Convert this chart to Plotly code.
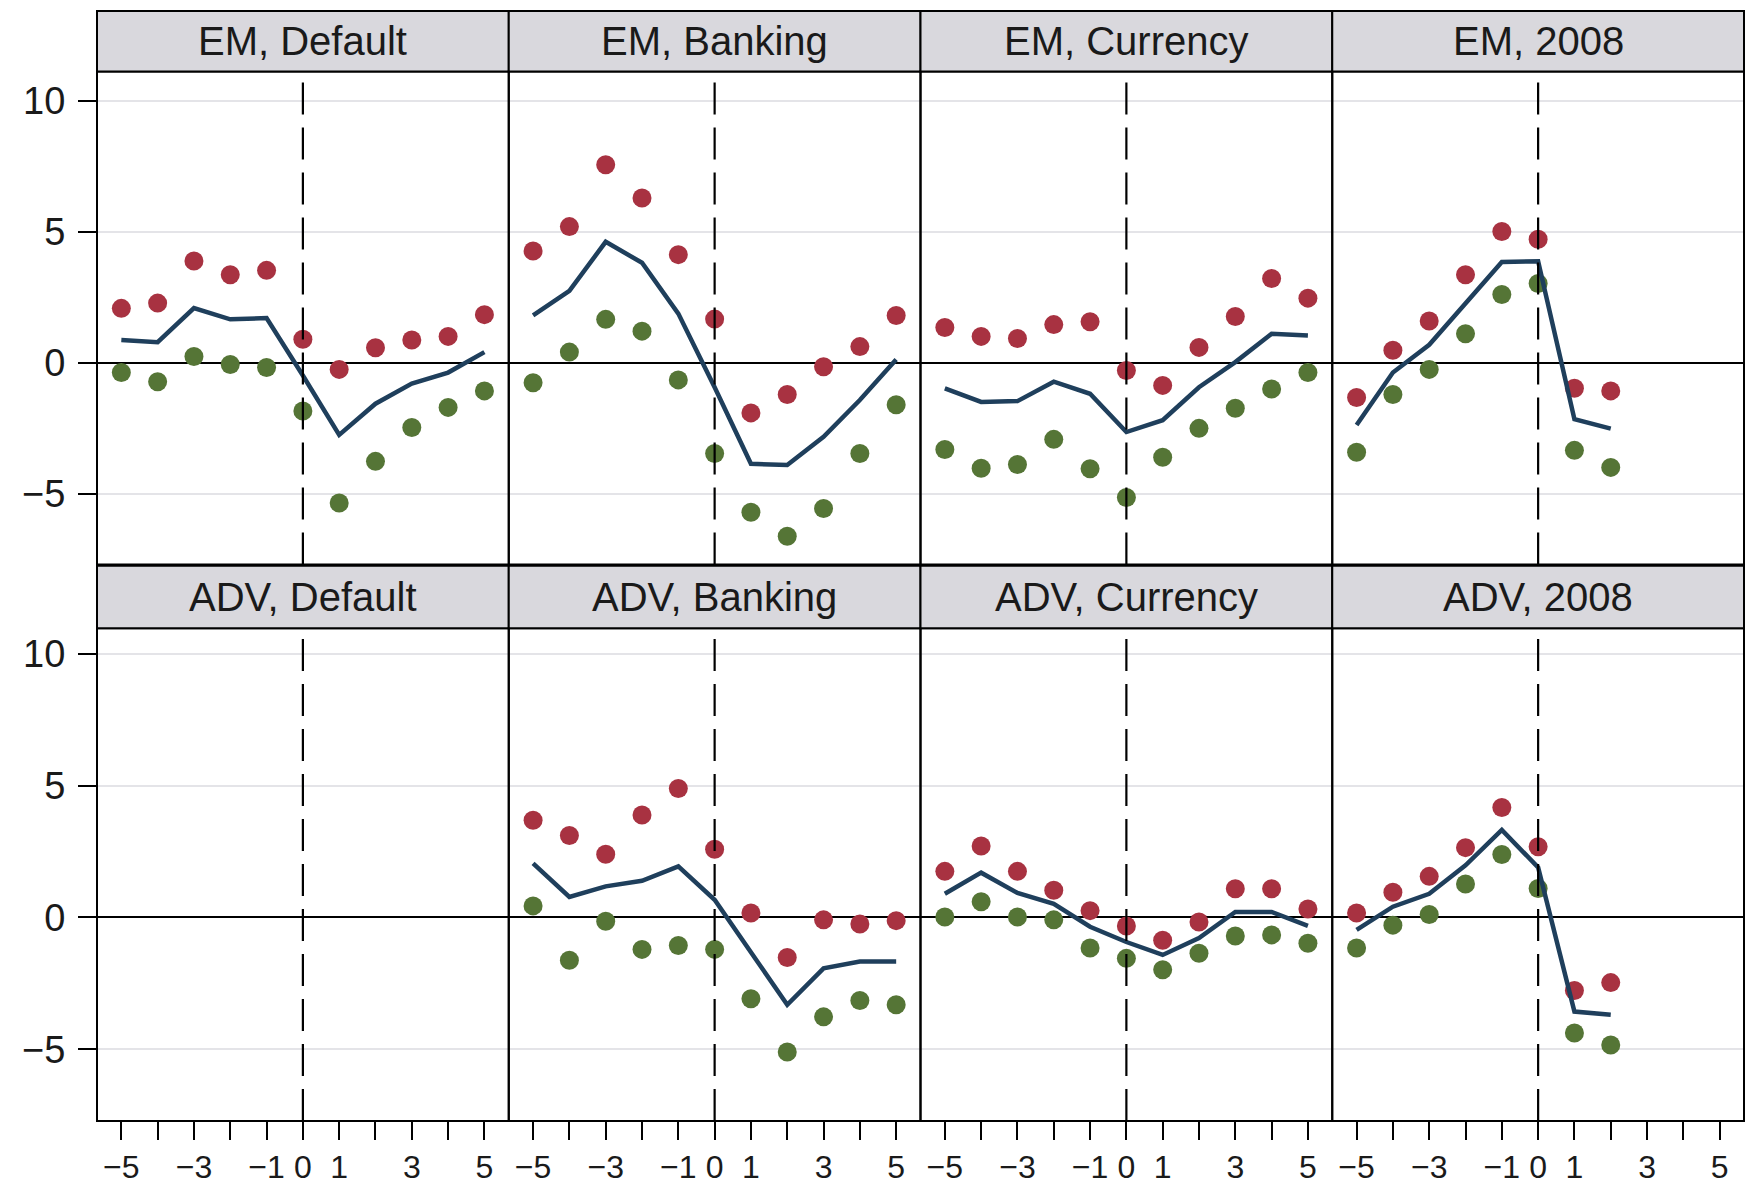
import plotly.graph_objects as go

# ---------------- data ----------------
x_full = [-5, -4, -3, -2, -1, 0, 1, 2, 3, 4, 5]
x_2008 = [-5, -4, -3, -2, -1, 0, 1, 2]

em_default_upper = [2.08, 2.28, 3.89, 3.36, 3.53, 0.90, -0.25, 0.58, 0.87, 1.01, 1.84]
em_default_lower = [-0.37, -0.72, 0.24, -0.06, -0.18, -1.84, -5.35, -3.76, -2.47, -1.70, -1.07]
em_default_mean = [0.87, 0.79, 2.09, 1.66, 1.71, -0.48, -2.75, -1.56, -0.79, -0.37, 0.41]

em_banking_upper = [4.27, 5.20, 7.56, 6.29, 4.13, 1.67, -1.91, -1.21, -0.15, 0.62, 1.81]
em_banking_lower = [-0.76, 0.41, 1.66, 1.21, -0.65, -3.46, -5.70, -6.62, -5.56, -3.46, -1.60]
em_banking_mean = [1.81, 2.75, 4.62, 3.82, 1.88, -0.93, -3.85, -3.90, -2.82, -1.42, 0.13]

em_currency_upper = [1.35, 1.01, 0.93, 1.46, 1.57, -0.29, -0.86, 0.59, 1.77, 3.22, 2.47]
em_currency_lower = [-3.31, -4.02, -3.88, -2.92, -4.04, -5.14, -3.60, -2.50, -1.73, -1.00, -0.37]
em_currency_mean = [-0.97, -1.49, -1.46, -0.72, -1.18, -2.64, -2.19, -0.93, 0.03, 1.11, 1.04]

em_2008_upper = [-1.32, 0.48, 1.60, 3.36, 5.01, 4.72, -0.97, -1.07]
em_2008_lower = [-3.41, -1.21, -0.25, 1.11, 2.61, 3.03, -3.34, -3.99]
em_2008_mean = [-2.37, -0.37, 0.69, 2.28, 3.85, 3.88, -2.15, -2.51]

adv_banking_upper = [3.69, 3.11, 2.40, 3.89, 4.89, 2.59, 0.17, -1.52, -0.09, -0.25, -0.12]
adv_banking_lower = [0.44, -1.62, -0.14, -1.21, -1.06, -1.21, -3.08, -5.10, -3.77, -3.15, -3.31]
adv_banking_mean = [2.05, 0.78, 1.18, 1.39, 1.94, 0.67, -1.32, -3.31, -1.93, -1.67, -1.67]

adv_currency_upper = [1.75, 2.71, 1.75, 1.03, 0.26, -0.32, -0.86, -0.17, 1.09, 1.09, 0.32]
adv_currency_lower = [0.02, 0.60, 0.02, -0.09, -1.16, -1.55, -1.98, -1.36, -0.70, -0.66, -0.98]
adv_currency_mean = [0.90, 1.70, 0.93, 0.52, -0.35, -0.93, -1.42, -0.78, 0.21, 0.21, -0.32]

adv_2008_upper = [0.17, 0.96, 1.56, 2.65, 4.17, 2.68, -2.77, -2.47]
adv_2008_lower = [-1.16, -0.29, 0.11, 1.27, 2.39, 1.10, -4.38, -4.84]
adv_2008_mean = [-0.47, 0.41, 0.90, 1.98, 3.32, 1.90, -3.57, -3.69]

panel_titles = ["EM, Default", "EM, Banking", "EM, Currency", "EM, 2008",
                "ADV, Default", "ADV, Banking", "ADV, Currency", "ADV, 2008"]

x_tickvals = [-5, -4, -3, -2, -1, 0, 1, 2, 3, 4, 5]
x_ticktext = ["\u22125", "", "\u22123", "", "\u22121", "0", "1", "", "3", "", "5"]
y_tickvals = [-5, 0, 5, 10]
y_ticktext = ["\u22125", "0", "5", "10"]

panels = [
    (x_full, em_default_upper, em_default_lower, em_default_mean),
    (x_full, em_banking_upper, em_banking_lower, em_banking_mean),
    (x_full, em_currency_upper, em_currency_lower, em_currency_mean),
    (x_2008, em_2008_upper, em_2008_lower, em_2008_mean),
    None,
    (x_full, adv_banking_upper, adv_banking_lower, adv_banking_mean),
    (x_full, adv_currency_upper, adv_currency_lower, adv_currency_mean),
    (x_2008, adv_2008_upper, adv_2008_lower, adv_2008_mean),
]

# ---------------- styling ----------------
RED = "#A83241"
GREEN = "#557536"
NAVY = "#1F3F5C"
STRIP = "#D9D8DD"
GRID = "#E4E4E8"
FONT = "Liberation Sans, Arial, Helvetica, sans-serif"
TXT = "#1a1a1a"

# page has an 8px body margin; figure placed so that the plot lands where the
# reference has it inside the 1753x1191 window
W, H = 1737, 1183
ML, MR, MT, MB = 89, 1, 3, 70
PLOT_TOP_PAGE = 8 + MT          # 11
PLOT_BOTTOM_PAGE = 8 + H - MB   # 1121
PH = PLOT_BOTTOM_PAGE - PLOT_TOP_PAGE


def py(Y):
    return (PLOT_BOTTOM_PAGE - Y) / PH


row_plot = [(py(564.6), py(71.5)), (0.0, py(628.3))]
row_strip = [(py(71.5), 1.0), (py(628.3), py(565.7))]
col_dom = [(0.0, 0.25), (0.25, 0.5), (0.5, 0.75), (0.75, 1.0)]
y_ranges = [[-7.7, 11.12], [-7.72, 10.97]]

fig = go.Figure()
shapes = []
annotations = []
layout = {}

for i in range(8):
    r, c = divmod(i, 4)
    n = i + 1
    xa = "x" if n == 1 else f"x{n}"
    ya = "y" if n == 1 else f"y{n}"
    xkey = "xaxis" if n == 1 else f"xaxis{n}"
    ykey = "yaxis" if n == 1 else f"yaxis{n}"

    layout[xkey] = dict(
        domain=list(col_dom[c]), anchor=ya, range=[-5.67, 5.67],
        showgrid=False, zeroline=False, showline=False, automargin=False,
        tickmode="array", tickvals=x_tickvals, ticktext=x_ticktext,
        ticks="outside" if r == 1 else "", ticklen=18, tickwidth=2, tickcolor="black",
        showticklabels=(r == 1), ticklabelstandoff=0,
        tickfont=dict(family=FONT, size=32, color=TXT),
        fixedrange=True,
    )
    layout[ykey] = dict(
        domain=list(row_plot[r]), anchor=xa, range=y_ranges[r],
        showgrid=True, gridcolor=GRID, gridwidth=2,
        zeroline=True, zerolinecolor="black", zerolinewidth=2,
        showline=False, automargin=False,
        tickmode="array", tickvals=y_tickvals, ticktext=y_ticktext,
        ticks="outside" if c == 0 else "", ticklen=18, tickwidth=2, tickcolor="black",
        showticklabels=(c == 0), ticklabelstandoff=5,
        tickfont=dict(family=FONT, size=38, color=TXT),
        fixedrange=True,
    )

    # vertical dashed line at event time 0
    shapes.append(dict(type="line", xref=xa, yref=f"{ya} domain",
                       x0=0, x1=0, y0=0, y1=1,
                       line=dict(color="black", width=2.2, dash="32px,13px"),
                       layer="above"))

    # panel border
    cx0, cx1 = col_dom[c]
    py0, py1 = row_plot[r]
    shapes.append(dict(type="rect", xref="paper", yref="paper",
                       x0=cx0, x1=cx1, y0=py0, y1=py1,
                       line=dict(color="black", width=2), layer="above"))

    # strip header
    sy0, sy1 = row_strip[r]
    shapes.append(dict(type="rect", xref="paper", yref="paper",
                       x0=cx0, x1=cx1, y0=sy0, y1=sy1,
                       fillcolor=STRIP, line=dict(color="black", width=2),
                       layer="above"))
    annotations.append(dict(xref="paper", yref="paper",
                            x=(cx0 + cx1) / 2, y=(sy0 + sy1) / 2,
                            text=panel_titles[i], showarrow=False,
                            xanchor="center", yanchor="middle",
                            font=dict(family=FONT, size=40, color=TXT)))

    p = panels[i]
    if p is None:
        fig.add_trace(go.Scatter(x=[], y=[], xaxis=xa, yaxis=ya,
                                 mode="markers", showlegend=False))
        continue
    xs, up, lo, mean = p
    fig.add_trace(go.Scatter(x=xs, y=up, xaxis=xa, yaxis=ya, mode="markers",
                             marker=dict(color=RED, size=19), showlegend=False,
                             cliponaxis=False))
    fig.add_trace(go.Scatter(x=xs, y=lo, xaxis=xa, yaxis=ya, mode="markers",
                             marker=dict(color=GREEN, size=19), showlegend=False,
                             cliponaxis=False))
    fig.add_trace(go.Scatter(x=xs, y=mean, xaxis=xa, yaxis=ya, mode="lines",
                             line=dict(color=NAVY, width=4.5), showlegend=False))

fig.update_layout(
    width=W, height=H,
    margin=dict(l=ML, r=MR, t=MT, b=MB, autoexpand=False),
    paper_bgcolor="white", plot_bgcolor="white",
    shapes=shapes, annotations=annotations,
    showlegend=False,
    **layout,
)

fig.write_html("out.html", config={"displayModeBar": False})
